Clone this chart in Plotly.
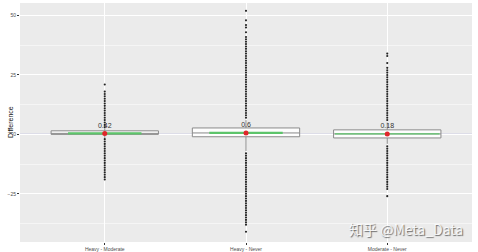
import plotly.graph_objects as go

categories = ["Heavy - Moderate", "Heavy - Never", "Moderate - Never"]
q1 = [0.0, -1.0, -1.5]
median = [0.4, 0.6, 0.2]
q3 = [1.5, 2.7, 1.9]
lowerfence = [-1.5, -7.0, -4.0]
upperfence = [2.5, 6.0, 5.0]
means = [0.42, 0.6, 0.18]
mean_labels = ["0.42", "0.6", "0.18"]
outliers_hm = [21, 18, 17, 16, 15, 14, 13, 12, 11, 10, 9, 8, 7, 6, 5, 4, 3,
               -2, -3, -4, -5, -6, -7, -8, -9, -10, -11, -12, -13, -14, -15, -16, -17, -18, -19]
outliers_hn = [52, 48, 46, 45, 43, 41, 40, 39, 38, 37, 36, 35, 34, 33, 32, 31, 30, 29, 28,
               27, 26, 25, 24, 23, 22, 21, 20, 19, 18, 17, 16, 15, 14, 13, 12, 11, 10, 9, 8, 7,
               -8, -9, -10, -11, -12, -13, -14, -15, -16, -17, -18, -19, -20, -21, -22, -23,
               -24, -25, -26, -27, -28, -29, -30, -31, -32, -33, -34, -35, -36, -37, -38, -41]
outliers_mn = [34, 33, 30, 28, 27, 26, 25, 24, 23, 22, 21, 20, 19, 18, 17, 16, 15, 14, 13,
               12, 11, 10, 9, 8, 7, 6,
               -5, -6, -7, -8, -9, -10, -11, -12, -13, -14, -15, -16, -17, -18, -19, -20,
               -21, -22, -23, -26]
outliers = [outliers_hm, outliers_hn, outliers_mn]
green_half = [0.26, 0.26, 0.37]

xs = list(range(len(categories)))
fig = go.Figure()

fig.add_shape(type="line", xref="paper", x0=0, x1=1, yref="y", y0=0, y1=0,
              line=dict(color="#7B7BD6", width=1), layer="below")

fig.add_trace(go.Box(x=xs, q1=q1, median=median, q3=q3, lowerfence=lowerfence,
                     upperfence=upperfence, width=0.76, whiskerwidth=0,
                     fillcolor="rgba(255,255,255,0.9)",
                     line=dict(color="#8A8A8A", width=1), boxpoints=False,
                     showlegend=False, hoverinfo="skip"))

for i, pts in enumerate(outliers):
    fig.add_trace(go.Scatter(x=[xs[i]] * len(pts), y=pts, mode="markers",
                             marker=dict(color="#222222", size=2.1),
                             showlegend=False))

for i, m in enumerate(means):
    fig.add_trace(go.Scatter(x=[xs[i] - green_half[i], xs[i] + green_half[i]], y=[m, m],
                             mode="lines", line=dict(color="#5CC46A", width=2.2 if i < 2 else 1.2),
                             showlegend=False))

fig.add_trace(go.Scatter(x=xs, y=means, mode="markers+text", text=mean_labels,
                         textposition="top center",
                         textfont=dict(size=7, color="#333333", family="Liberation Sans"),
                         marker=dict(color="#E0262A", size=5),
                         showlegend=False))

fig.add_annotation(text="Difference", xref="paper", yref="paper", x=-0.033, y=0.5,
                   textangle=-90, showarrow=False,
                   font=dict(size=7, color="#111111", family="Liberation Sans"))

fig.add_annotation(text="知乎 @Meta_Data", xref="paper", yref="paper", x=0.985, y=0.005,
                   xanchor="right", yanchor="bottom", showarrow=False,
                   font=dict(size=14, color="rgba(255,255,255,0.85)", family="Noto Sans CJK SC",
                             shadow="1px 1px 1px #555555"))

fig.update_layout(
    width=478, height=252,
    margin=dict(l=20, r=6, t=3, b=10),
    paper_bgcolor="white", plot_bgcolor="#EBEBEB",
    xaxis=dict(range=[-0.6, 2.6], tickvals=xs, ticktext=categories,
               showgrid=True, gridcolor="white", gridwidth=1, zeroline=False,
               ticks="outside", ticklen=2, tickcolor="#333333",
               tickfont=dict(size=5, color="#4D4D4D", family="Liberation Sans"),
               automargin=False),
    yaxis=dict(range=[-45.3, 55.3], tickvals=[-25, 0, 25, 50],
               showgrid=True, gridcolor="white", gridwidth=1, zeroline=False,
               minor=dict(tickvals=[-37.5, -12.5, 12.5, 37.5], showgrid=True,
                          gridcolor="#F5F5F5", gridwidth=0.5),
               ticks="outside", ticklen=2, tickcolor="#333333",
               tickfont=dict(size=5, color="#4D4D4D", family="Liberation Sans"),
               automargin=False),
    font=dict(family="Liberation Sans"),
)

fig.write_html("out.html")
